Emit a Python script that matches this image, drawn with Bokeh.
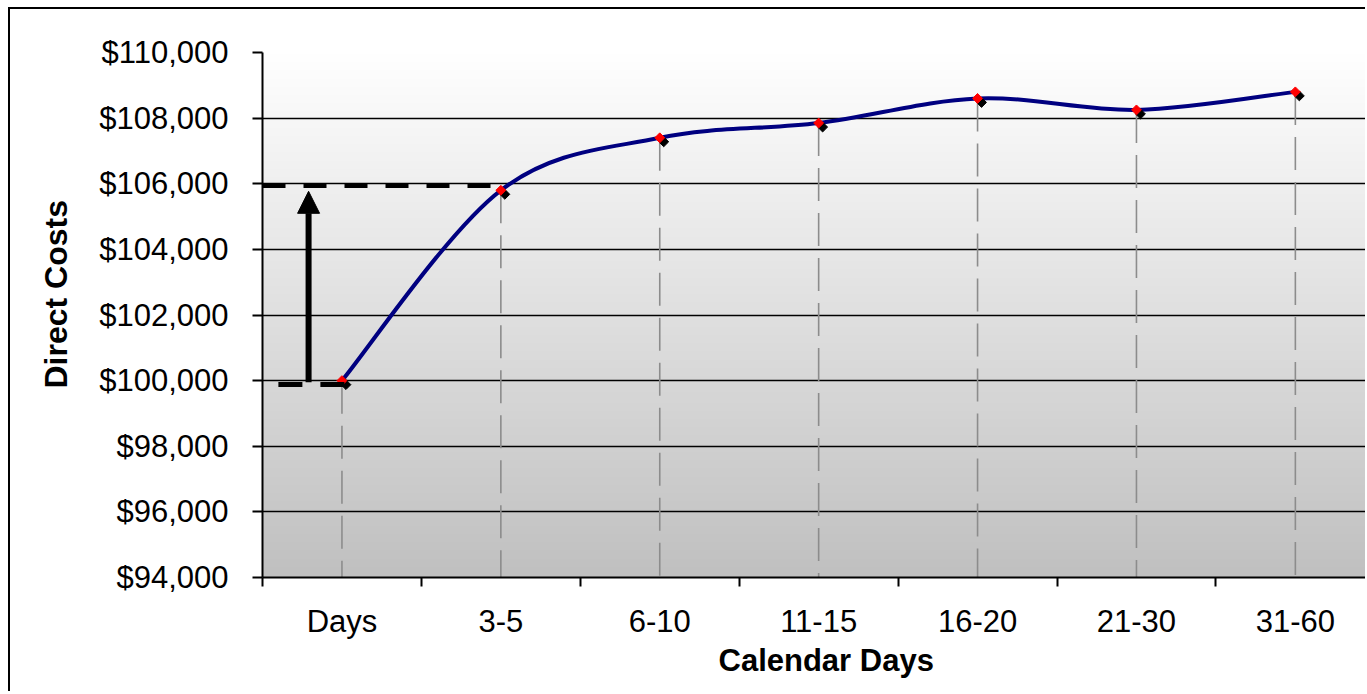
import numpy as np
from bokeh.plotting import figure
from bokeh.models import (Range1d, FixedTicker, NumeralTickFormatter, Title,
                          Arrow, NormalHead, ColumnDataSource)
from bokeh.transform import dodge
from bokeh.embed import file_html
from bokeh.resources import INLINE

# ---- data ----
categories = ["Days", "3-5", "6-10", "11-15", "16-20", "21-30", "31-60"]
costs = [100000, 105800, 107400, 107850, 108600, 108250, 108800]
y_ticks = [94000, 96000, 98000, 100000, 102000, 104000, 106000, 108000, 110000]
y_min, y_max = 94000, 110000

# annotation (arrow from first value up to second value)
arrow_x = -0.21
top_dash_y = 105950
bottom_dash_y = 99880

FONT = "Liberation Sans"
xs = list(range(len(categories)))

p = figure(width=1357, height=684, output_backend="svg", toolbar_location=None,
           x_range=Range1d(-0.5, 6.454), y_range=Range1d(y_min, y_max),
           min_border_left=252, min_border_top=43, min_border_bottom=116,
           min_border_right=0, background_fill_color="white",
           border_fill_color="white")
p.styles = {"border-left": "2px solid black", "border-top": "2px solid black",
            "margin-left": "8px", "margin-top": "7px"}
p.outline_line_color = None

# gradient background
n = 256
g = np.linspace(192, 255, n).astype(np.uint32)
img = np.empty((n, 1), dtype=np.uint32)
view = img.view(dtype=np.uint8).reshape((n, 1, 4))
view[:, 0, 0] = g
view[:, 0, 1] = g
view[:, 0, 2] = g
view[:, 0, 3] = 255
p.image_rgba(image=[img], x=-0.5, y=y_min, dw=7, dh=y_max - y_min, level="image")

# grid
p.xgrid.visible = False
p.ygrid.ticker = FixedTicker(ticks=y_ticks)
p.ygrid.grid_line_color = "black"
p.ygrid.grid_line_width = 1.5

# axes
p.yaxis.ticker = FixedTicker(ticks=y_ticks)
p.yaxis.formatter = NumeralTickFormatter(format="$0,0")
p.yaxis.major_tick_out = 10
p.yaxis.major_tick_in = 0
p.yaxis.minor_tick_line_color = None
p.yaxis.major_label_standoff = 24
p.yaxis.major_label_text_font = FONT
p.yaxis.major_label_text_font_size = "31px"
p.yaxis.major_label_text_color = "black"
p.yaxis.axis_line_width = 2
p.yaxis.major_tick_line_width = 2

p.xaxis.ticker = FixedTicker(ticks=xs, minor_ticks=[i - 0.5 for i in range(len(categories) + 1)])
p.xaxis.major_label_overrides = {i: c for i, c in enumerate(categories)}
p.xaxis.major_tick_out = 0
p.xaxis.major_tick_in = 0
p.xaxis.minor_tick_out = 9
p.xaxis.minor_tick_in = 0
p.xaxis.minor_tick_line_width = 2
p.xaxis.minor_tick_line_color = "black"
p.xaxis.major_label_standoff = 17
p.xaxis.major_label_text_font = FONT
p.xaxis.major_label_text_font_size = "31px"
p.xaxis.major_label_text_color = "black"
p.xaxis.axis_line_width = 2

# drop lines
p.segment(x0=xs, y0=costs, x1=xs, y1=[y_min] * len(xs), line_color="#8c8c8c",
          line_width=1.6, line_dash="33 12")

# smoothed line (Bezier segments through the data points)
P = np.array([xs, costs], dtype=float).T
prev = np.vstack([P[:1], P[:-1]])      # P_{i-1}
nxt = np.vstack([P[1:], P[-1:]])       # P_{i+1}
tang = (nxt - prev) / 6.0
p.bezier(x0=P[:-1, 0], y0=P[:-1, 1], x1=P[1:, 0], y1=P[1:, 1],
         cx0=P[:-1, 0] + tang[:-1, 0], cy0=P[:-1, 1] + tang[:-1, 1],
         cx1=P[1:, 0] - tang[1:, 0], cy1=P[1:, 1] - tang[1:, 1],
         line_color="#000080", line_width=4)

# markers with shadow
src = ColumnDataSource(dict(x=xs, y=costs))
p.scatter(x=dodge("x", 0.025, range=p.x_range), y=dodge("y", -122, range=p.y_range),
          source=src, marker="square", angle=np.pi / 4, size=7,
          fill_color="black", line_color="black")
p.scatter(x="x", y="y", source=src, marker="square", angle=np.pi / 4, size=7,
          fill_color="#ff0000", line_color="#ff0000")

# annotation dashed lines and arrow
p.line(x=[-0.5, 0.97], y=[top_dash_y, top_dash_y], line_color="black",
       line_width=5, line_dash="23 18")
p.line(x=[-0.4, 0.03], y=[bottom_dash_y, bottom_dash_y], line_color="black",
       line_width=5, line_dash="24 18")
p.add_layout(Arrow(x_start=arrow_x, y_start=costs[0] - 50, x_end=arrow_x,
                   y_end=costs[1] - 30, line_width=6, line_color="black",
                   end=NormalHead(size=22, fill_color="black", line_color="black")))

# axis titles
p.add_layout(Title(text="Calendar Days", text_font=FONT, text_font_size="31px",
                   text_font_style="bold", text_color="black", align="left",
                   offset=456, vertical_align="top", standoff=2), "below")
p.add_layout(Title(text="Direct Costs", text_font=FONT, text_font_size="32px",
                   text_font_style="bold", text_color="black", align="left",
                   offset=189, vertical_align="bottom", standoff=46), "left")

open("out.html", "w").write(file_html(p, INLINE))
